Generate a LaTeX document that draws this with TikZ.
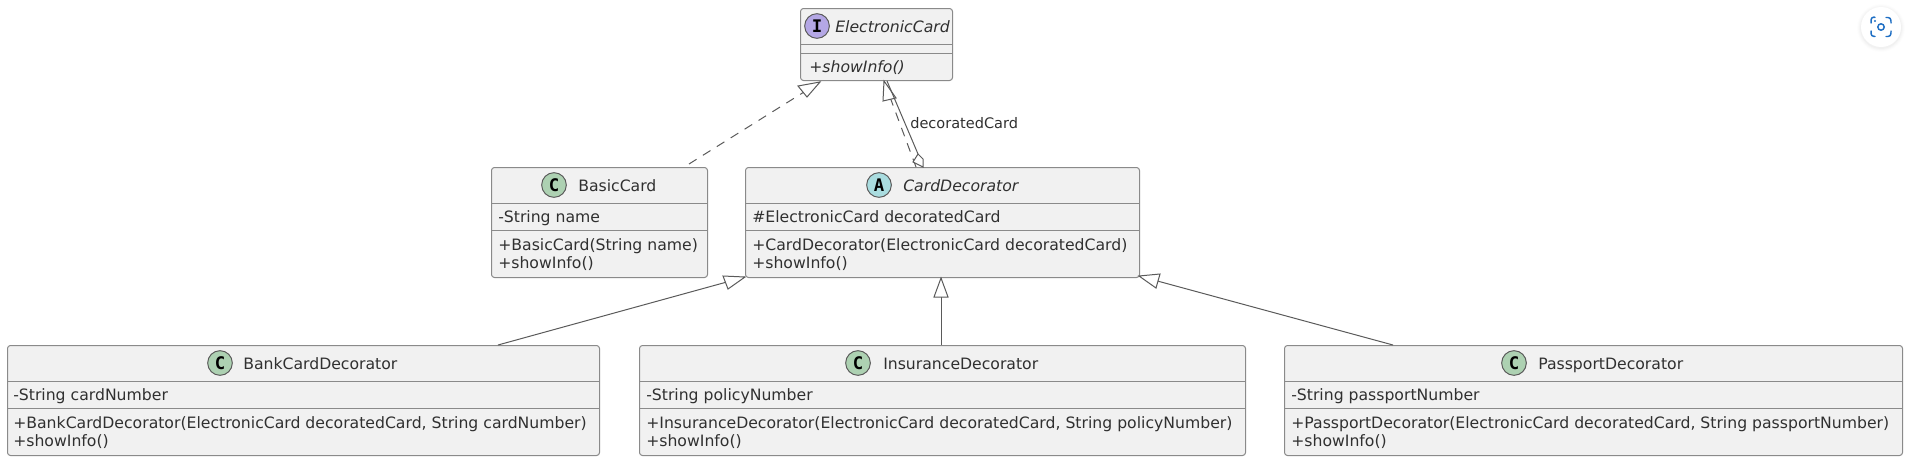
\documentclass[tikz,border=0pt]{standalone}
\usepackage{fontspec}
\setmainfont{DejaVu Sans}
\newfontfamily\spotfont{DejaVu Sans Mono}
\usetikzlibrary{calc}
\definecolor{boxfill}{HTML}{F1F1F1}
\definecolor{boxline}{HTML}{8A8A8A}
\definecolor{wire}{HTML}{5A5A5A}
\definecolor{spotC}{HTML}{ADD1B2}
\definecolor{spotI}{HTML}{B4A7E5}
\definecolor{spotA}{HTML}{A9DCDF}
\definecolor{txt}{HTML}{303030}
\definecolor{iconblue}{HTML}{1F6FC4}
\tikzset{
  x=0.75pt,y=-0.75pt,
  umlbox/.style={draw=boxline,fill=boxfill,line width=0.75pt,rounded corners=2.2pt,inner sep=0pt,anchor=north west},
  sepline/.style={draw=boxline,line width=0.75pt},
  umltext/.style={text=txt,font=\fontsize{11.75pt}{14pt}\selectfont,inner sep=0pt,anchor=base west},
  umlital/.style={umltext,font=\fontsize{11.75pt}{14pt}\itshape\selectfont},
  spot/.style={circle,draw=wire,line width=0.75pt,minimum size=18.5pt,inner sep=0pt,font=\fontsize{13pt}{13pt}\spotfont\bfseries\selectfont,text=black},
  wireline/.style={draw=wire,line width=0.75pt},
  wiredash/.style={wireline,dash pattern=on 6.7pt off 5.6pt},
  tri/.style={draw=wire,line width=0.75pt,fill=white},
}
\newcommand{\umlclass}[7]{%
 \node[umlbox,minimum width=#4*0.75pt,minimum height=#5*0.75pt] (#1) at (#2,#3) {};
 \draw[sepline] ($(#1.north west)+(0,#6)$) -- ($(#1.north east)+(0,#6)$);
 \draw[sepline] ($(#1.north west)+(0,#7)$) -- ($(#1.north east)+(0,#7)$);
}
\begin{document}
\begin{tikzpicture}
\useasboundingbox (0,0) rectangle (1906,457);
% boxes
\umlclass{ec}{800}{8}{152}{72}{36}{45}
\umlclass{basic}{491}{167}{216}{110}{36}{63}
\umlclass{decor}{745}{167}{394}{110}{36}{63}
\umlclass{bank}{7}{345}{592}{110}{36}{63}
\umlclass{ins}{639}{345}{606}{110}{36}{63}
\umlclass{pass}{1284}{345}{618}{110}{36}{63}
% spots and titles
\node[spot,fill=spotI] (ecs) at (817,26) {I};
\node[umlital] (ect) at (835,32) {ElectronicCard};
\node[spot,fill=spotC] (basics) at (554,185) {C};
\node[umltext] (basict) at (578,191) {BasicCard};
\node[spot,fill=spotA] (decors) at (879,185) {A};
\node[umlital] (decort) at (903,191) {CardDecorator};
\node[spot,fill=spotC] (banks) at (220,363) {C};
\node[umltext] (bankt) at (243,369) {BankCardDecorator};
\node[spot,fill=spotC] (inss) at (858,363) {C};
\node[umltext] (inst) at (883,369) {InsuranceDecorator};
\node[spot,fill=spotC] (passs) at (1514,363) {C};
\node[umltext] (passt) at (1538,369) {PassportDecorator};
% members
\node[umlital] (ecm) at (809,72) {+showInfo()};
\node[umltext] (basica) at (498,222) {-String name};
\node[umltext] (basicb) at (498,250) {+BasicCard(String name)};
\node[umltext] (basicc) at (498,268) {+showInfo()};
\node[umltext] (decora) at (752,222) {\#ElectronicCard decoratedCard};
\node[umltext] (decorb) at (752,250) {+CardDecorator(ElectronicCard decoratedCard)};
\node[umltext] (decorc) at (752,268) {+showInfo()};
\node[umltext] (banka) at (13,400) {-String cardNumber};
\node[umltext] (bankb) at (13,428) {+BankCardDecorator(ElectronicCard decoratedCard, String cardNumber)};
\node[umltext] (bankc) at (13,446) {+showInfo()};
\node[umltext] (insa) at (646,400) {-String policyNumber};
\node[umltext] (insb) at (646,428) {+InsuranceDecorator(ElectronicCard decoratedCard, String policyNumber)};
\node[umltext] (insc) at (646,446) {+showInfo()};
\node[umltext] (passa) at (1291,400) {-String passportNumber};
\node[umltext] (passb) at (1291,428) {+PassportDecorator(ElectronicCard decoratedCard, String passportNumber)};
\node[umltext] (passc) at (1291,446) {+showInfo()};
% connectors
\coordinate (a1) at ($(basic.north west)+(198,-3)$);
\coordinate (a2) at ($(ec.south west)+(20,1)$);
\draw[wiredash] (a1) -- (a2);
\draw[tri] (a2) -- (798,86) -- (807,97) -- cycle;
\coordinate (b1) at ($(decor.north west)+(171,0)$);
\coordinate (b2) at ($(ec.south west)+(84,0)$);
\draw[wiredash] (b1) -- (b2);
\draw[tri] (b2) -- (883,101) -- (896,98) -- cycle;
\coordinate (c1) at ($(ec.south west)+(87,0)$);
\coordinate (c2) at ($(decor.north west)+(173,-13)$);
\draw[wireline] (c1) -- (c2);
\draw[tri] (918,154) -- (923,159) -- (923,167) -- (913,162) -- cycle;
\node[umltext,font=\fontsize{10.9pt}{13pt}\selectfont] (lbl) at (910,128) {decoratedCard};
\coordinate (d1) at ($(bank.north west)+(491,0)$);
\coordinate (d2) at ($(decor.south west)+(0,-1)$);
\draw[wireline] (d1) -- (d2);
\draw[tri] (d2) -- (723,276) -- (728,289) -- cycle;
\coordinate (e1) at ($(ins.north west)+(302,0)$);
\coordinate (e2) at ($(decor.south west)+(196,0)$);
\draw[wireline] (e1) -- (e2);
\draw[tri] (e2) -- (934,297) -- (948,297) -- cycle;
\coordinate (f1) at ($(pass.north west)+(109,0)$);
\coordinate (f2) at ($(decor.south east)+(-1,-2)$);
\draw[wireline] (f1) -- (f2);
\draw[tri] (f2) -- (1160,274) -- (1156,288) -- cycle;
% corner button
\foreach \r/\o in {24/0.008,23/0.012,22/0.016,21/0.02}{\fill[black,opacity=\o] (1881,28) circle (\r*0.75pt);}
\fill[white] (1881,27) circle (20*0.75pt);
\draw[iconblue,line width=1.1pt,line cap=round] (1871,23) -- (1871,20) arc[start angle=180,end angle=90,radius=2.2pt] -- (1875,17.5);
\draw[iconblue,line width=1.1pt,line cap=round] (1886,17.5) -- (1888,17.5) arc[start angle=90,end angle=0,radius=2.2pt] -- (1891,23);
\draw[iconblue,line width=1.1pt,line cap=round] (1871,31) -- (1871,33.5) arc[start angle=180,end angle=270,radius=2.2pt] -- (1875,36.5);
\draw[iconblue,line width=1.1pt,line cap=round] (1886,36.5) -- (1888,36.5) arc[start angle=270,end angle=360,radius=2.2pt] -- (1891,31);
\draw[iconblue,line width=1.1pt] (1881,27) circle (2.4pt);
\fill[iconblue] (1875,21) circle (0.9pt);
\end{tikzpicture}
\end{document}
